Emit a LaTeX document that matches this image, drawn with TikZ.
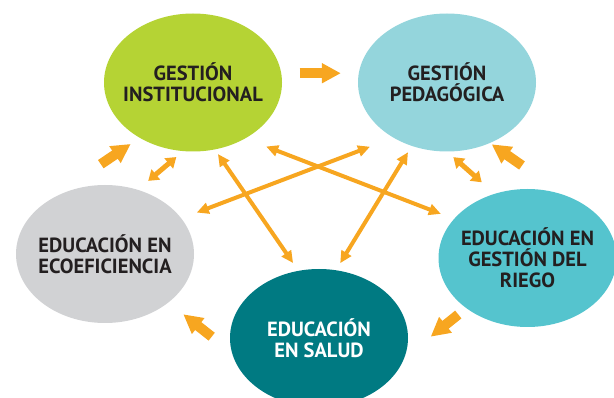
\documentclass[tikz,border=0pt]{standalone}
\usepackage{fontspec}
\setmainfont{PT Sans}
\usetikzlibrary{arrows.meta,shapes.geometric}
\definecolor{arrorange}{RGB}{247,166,32}
\definecolor{limegreen}{RGB}{181,211,52}
\definecolor{paleteal}{RGB}{148,213,220}
\definecolor{palegrey}{RGB}{209,210,212}
\definecolor{skyteal}{RGB}{85,196,206}
\definecolor{deepteal}{RGB}{0,122,130}
\definecolor{inkdark}{RGB}{35,31,32}

\begin{document}
\begin{tikzpicture}[x=1pt,y=-1pt,
  circ/.style={ellipse,minimum width=178pt,minimum height=138pt,inner xsep=-12pt,inner ysep=0pt,outer sep=0pt,align=center,font=\fontsize{20.5}{21}\selectfont\bfseries,text=inkdark},
  dbl/.style={{Triangle[length=12pt,width=11pt]}-{Triangle[length=12pt,width=11pt]},line width=4pt,arrorange},
  sdbl/.style={{Triangle[length=10pt,width=13pt]}-{Triangle[length=10pt,width=13pt]},line width=5pt,arrorange},
  blk/.style={-{Triangle[length=19pt,width=19pt]},line width=10pt,arrorange}]
\useasboundingbox (0,0) rectangle (614,398);
\node[circ,fill=limegreen] (gi) at (193,82.5) {GESTIÓN\\INSTITUCIONAL};
\node[circ,fill=paleteal] (gp) at (447,82.5) {GESTIÓN\\PEDAGÓGICA};
\node[circ,fill=palegrey] (eco) at (105,254) {EDUCACIÓN EN\\ECOEFICIENCIA};
\node[circ,fill=skyteal] (riego) at (527.5,258) {EDUCACIÓN EN\\GESTIÓN DEL\\RIEGO};
\node[circ,fill=deepteal,text=white] (salud) at (319,338) {EDUCACIÓN\\EN SALUD};
\coordinate (ecogi-a) at (100.8,164.2);
\coordinate (ecogi-b) at (130.7,144);
\coordinate (riegp-a) at (522,165.5);
\coordinate (riegp-b) at (491.7,144.3);
\coordinate (saleco-a) at (211.7,336.7);
\coordinate (saleco-b) at (183.3,314.3);
\coordinate (riesal-a) at (458.3,314.5);
\coordinate (riesal-b) at (430.7,336.7);
\draw[blk,shorten <=18.5pt,shorten >=18pt] (gi.6) -- (gp.174);
\draw[blk] (ecogi-a) -- (ecogi-b);
\draw[blk] (riegp-a) -- (riegp-b);
\draw[blk] (saleco-a) -- (saleco-b);
\draw[blk] (riesal-a) -- (riesal-b);
\draw[sdbl,shorten <=13.8pt,shorten >=9.2pt] (eco.63.1) -- (gi.-98.9);
\draw[sdbl,shorten <=8.5pt,shorten >=17.4pt] (gp.-90.4) -- (riego.117.4);
\draw[dbl,shorten <=5.6pt,shorten >=9.5pt] (gi.-72) -- (salud.107);
\draw[dbl,shorten <=22.5pt,shorten >=14.2pt] (gi.-47.6) -- (riego.152.3);
\draw[dbl,shorten <=25.3pt,shorten >=16.6pt] (gp.-134) -- (eco.25.2);
\draw[dbl,shorten <=7.4pt,shorten >=8.3pt] (gp.-119.4) -- (salud.76.5);
\end{tikzpicture}
\end{document}
